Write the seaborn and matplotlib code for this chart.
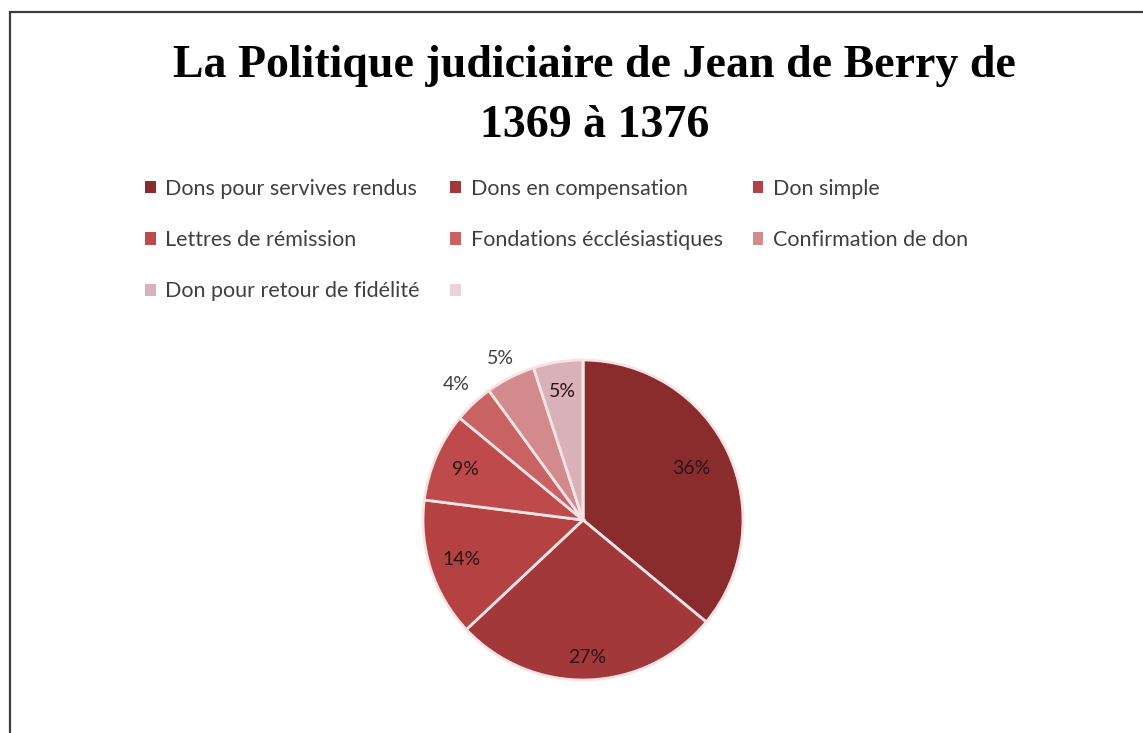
# %%
# Libraries
import matplotlib
matplotlib.use("Agg")
import matplotlib.pyplot as plt
import matplotlib.patches as mpatches
import seaborn as sns
import numpy as np

# %%
# Data
categories = [
    "Dons pour servives rendus",
    "Dons en compensation",
    "Don simple",
    "Lettres de rémission",
    "Fondations écclésiastiques",
    "Confirmation de don",
    "Don pour retour de fidélité",
    "",
]
shares = [36, 27, 14, 9, 4, 5, 5, 0]
pct_labels = ["36%", "27%", "14%", "9%", "4%", "5%", "5%", ""]

colors = ["#8a2c2e", "#a23839", "#b54243", "#bf4a4b",
          "#c96262", "#d38a8c", "#dbb1b8", "#ecd3da"]
# distance of each percentage label from the centre (Excel "best fit")
label_dist = [0.75, 0.86, 0.80, 0.80, 1.16, 1.13, 0.81, 0]

# %%
sns.set_theme(style="white")
plt.rcParams['font.family'] = ['Lato', 'DejaVu Sans']

fig = plt.figure(figsize=(11.43, 7.33), dpi=100)
fig.patch.set_facecolor("white")

# frame around the chart area
fig.patches.append(mpatches.Rectangle((10 / 1143, -0.05), 1.2, 1 - 12 / 733 + 0.05,
                                      transform=fig.transFigure, fill=False,
                                      edgecolor="#3c3c3c", linewidth=1.6))

# title
fig.text(0.520, 1 - 66 / 733, "La Politique judiciaire de Jean de Berry de",
         ha="center", va="center", fontsize=33, fontweight="bold",
         family="Liberation Serif", color="black")
fig.text(0.520, 1 - 126 / 733, "1369 à 1376",
         ha="center", va="center", fontsize=33, fontweight="bold",
         family="Liberation Serif", color="black")

# pie
ax = fig.add_axes([383 / 1143, 13 / 733, 400 / 1143, 400 / 733])
wedges, _ = ax.pie(shares, colors=colors, startangle=90, counterclock=False,
                   wedgeprops=dict(edgecolor="#f6e4e4", linewidth=2))
ax.set_xlim(-1.25, 1.25)
ax.set_ylim(-1.25, 1.25)
ax.set_aspect("equal")
ax.axis("off")

for w, txt, d in zip(wedges, pct_labels, label_dist):
    if not txt:
        continue
    ang = np.deg2rad((w.theta1 + w.theta2) / 2)
    col = "#404040" if d > 1 else "#2a1414"
    ax.text(d * np.cos(ang), d * np.sin(ang), txt, ha="center", va="center",
            fontsize=14, color=col)

# legend, filled row by row like Excel (matplotlib fills column by column)
handles = [mpatches.Patch(facecolor=c, edgecolor="none") for c in colors]
order = [0, 3, 6, 1, 4, 7, 2, 5]
fig.legend([handles[i] for i in order], [categories[i] for i in order],
           loc="upper left", ncol=3,
           bbox_to_anchor=(145 / 1143, 1 - 179 / 733), frameon=False,
           fontsize=15.5, labelcolor="#404040", handlelength=0.5, handleheight=0.5,
           handletextpad=0.45, columnspacing=1.4, labelspacing=1.45,
           borderaxespad=0, borderpad=0)

plt.savefig("out.png", dpi=100)
